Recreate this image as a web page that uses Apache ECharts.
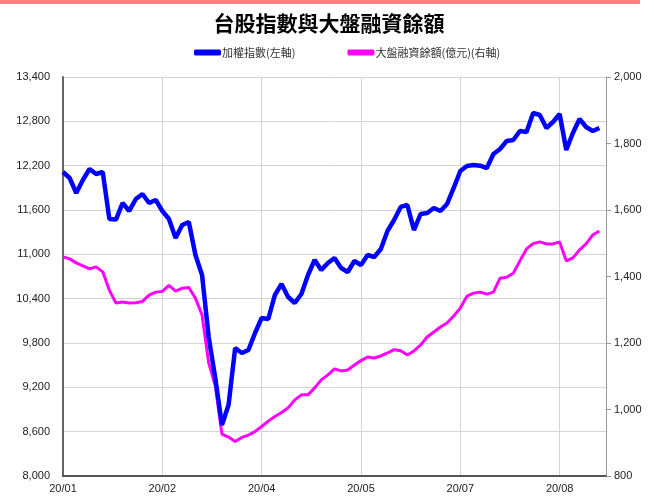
<!DOCTYPE html>
<html>
<head>
<meta charset="utf-8">
<script src="https://cdn.jsdelivr.net/npm/echarts@6/dist/echarts.min.js"></script>
<style>
html,body{margin:0;padding:0;background:#fff;}
#c{width:654px;height:498px;}
</style>
</head>
<body>
<div id="c"></div>
<script>
var titleText = '台股指數與大盤融資餘額';
var seriesNames = ['加權指數(左軸)', '大盤融資餘額(億元)(右軸)'];
var tickLabels = ['20/01', '20/02', '20/04', '20/05', '20/07', '20/08'];
var categoryCount = 83;
var labelEvery = 15;

var taiex = [
12114,12033,11830,12006,12155,12087,12114,11478,11470,11695,
11587,11749,11817,11695,11735,11587,11478,11221,11397,11438,
10991,10720,9881,9326,8690,8961,9732,9665,9705,9935,
10138,10125,10450,10599,10423,10341,10463,10720,10923,10788,
10883,10950,10815,10761,10910,10856,10991,10964,11072,11316,
11465,11641,11668,11329,11546,11559,11627,11587,11681,11898,
12128,12196,12209,12200,12168,12358,12426,12534,12547,12669,
12656,12913,12886,12710,12791,12899,12412,12642,12832,12723,
12669,12710
];

var margin = [
1459,1453,1441,1432,1423,1429,1414,1359,1320,1323,
1320,1321,1325,1344,1353,1355,1373,1356,1365,1367,
1335,1284,1140,1071,926,917,904,916,923,934,
949,965,979,991,1005,1029,1044,1044,1065,1089,
1104,1122,1116,1119,1134,1147,1158,1155,1161,1170,
1180,1177,1164,1176,1194,1218,1233,1248,1260,1281,
1305,1341,1350,1353,1347,1353,1395,1398,1410,1447,
1483,1499,1504,1498,1498,1504,1447,1456,1480,1498,
1525,1537
];

var categories = [];
for (var i = 0; i < categoryCount; i++) {
  categories.push(i % labelEvery === 0 ? tickLabels[i / labelEvery] : '');
}

var chart = echarts.init(document.getElementById('c'), null, {renderer: 'canvas'});
var fontFam = '"Liberation Sans", Arial, sans-serif';
chart.setOption({
  animation: false,
  backgroundColor: '#ffffff',
  graphic: [{
    type: 'rect', left: 0, top: 0,
    shape: {width: 640, height: 4},
    style: {fill: '#FF8080'}
  }],
  title: {
    text: titleText,
    left: 324, top: 8, textAlign: 'center',
    textStyle: {fontSize: 21, fontWeight: 'bold', color: '#000', fontFamily: '"Noto Sans CJK TC", sans-serif'}
  },
  legend: {
    top: 42, left: 189,
    itemGap: 52,
    itemWidth: 27, itemHeight: 6,
    icon: 'roundRect',
    textStyle: {fontSize: 11, color: '#333', fontFamily: '"Noto Sans CJK TC", serif', padding: [0,0,0,-4]},
    data: [
      {name: seriesNames[0], itemStyle: {color: '#0000FF'}},
      {name: seriesNames[1], itemStyle: {color: '#FF00FF'}}
    ]
  },
  grid: {left: 63, right: 48, top: 77, bottom: 22, containLabel: false},
  xAxis: {
    type: 'category',
    data: categories,
    boundaryGap: false,
    axisLine: {show: true, lineStyle: {color: '#555', width: 2}},
    axisTick: {show: false},
    axisLabel: {
      interval: function (idx) { return idx % labelEvery === 0; },
      color: '#222', fontSize: 11, fontFamily: fontFam, margin: 7
    },
    splitLine: {
      show: true,
      interval: function (idx) { return idx % labelEvery === 0 && idx > 0; },
      lineStyle: {color: '#d4d4d4', width: 1}
    }
  },
  yAxis: [{
    type: 'value', min: 8000, max: 13400, interval: 600,
    position: 'left',
    axisLine: {show: true, lineStyle: {color: '#666', width: 2}},
    axisTick: {show: false},
    axisLabel: {
      color: '#222', fontSize: 11, fontFamily: fontFam, margin: 13,
      formatter: function (v) { return v.toLocaleString('en-US'); }
    },
    splitLine: {show: true, lineStyle: {color: '#d4d4d4', width: 1}}
  }, {
    type: 'value', min: 800, max: 2000, interval: 200,
    position: 'right',
    axisLine: {show: true, lineStyle: {color: '#999', width: 1}},
    axisTick: {show: true, inside: false, length: 5, lineStyle: {color: '#999'}},
    axisLabel: {
      color: '#222', fontSize: 11, fontFamily: fontFam, margin: 8,
      formatter: function (v) { return v.toLocaleString('en-US'); }
    },
    splitLine: {show: false}
  }],
  series: [{
    name: seriesNames[1],
    type: 'line',
    yAxisIndex: 1,
    data: margin,
    symbol: 'none',
    lineStyle: {color: '#FF00FF', width: 3},
    itemStyle: {color: '#FF00FF'},
    z: 2
  }, {
    name: seriesNames[0],
    type: 'line',
    yAxisIndex: 0,
    data: taiex,
    symbol: 'none',
    lineStyle: {color: '#0000FF', width: 4.5},
    itemStyle: {color: '#0000FF'},
    z: 3
  }]
});
</script>
</body>
</html>
